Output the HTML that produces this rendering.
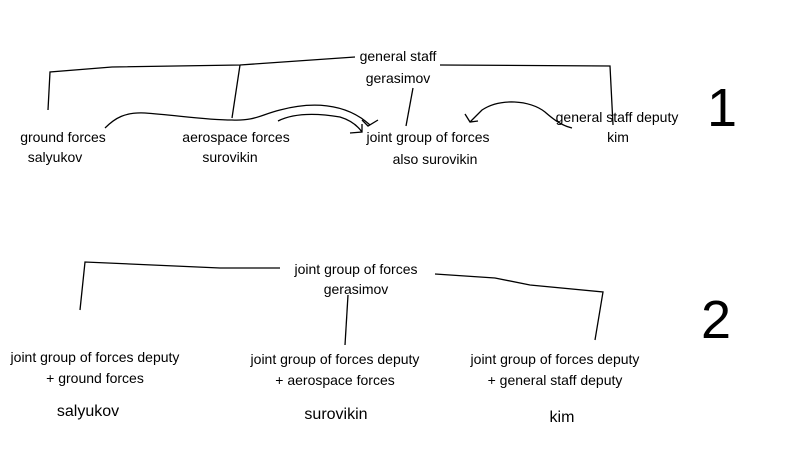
<!DOCTYPE html>
<html><head><style>html,body{margin:0;padding:0;background:#fff}svg{display:block}</style></head><body>
<svg width="800" height="459" viewBox="0 0 800 459" xmlns="http://www.w3.org/2000/svg" font-family="Liberation Sans, sans-serif">
<g fill="none" stroke="#000" stroke-width="1.3">
<polyline points="48,110 50,72 112,67 240,65 355,57"/>
<polyline points="240,65 232,118"/>
<polyline points="440,65 610,66 613,125"/>
<path d="M105,128 C115,118 125,112 145,113 C175,115 205,120 232,120 C255,121 260,115 280,110 C310,102 345,102 370,125"/>
<polyline points="362,120 368,126 378,120"/>
<path d="M278,121 C290,115 310,112 340,117 C350,120 357,125 362,132"/>
<polyline points="350,133 362,132 362,124"/>
<line x1="413" y1="88" x2="406" y2="126"/>
<path d="M572,128 C560,125 552,118 545,112 C530,100 500,98 482,110 L470,122"/>
<polyline points="465,114 470,122 478,121"/>
<polyline points="280,268 220,268 85,262 80,310"/>
<polyline points="435,274 495,278 530,285 603,292 595,340"/>
<polyline points="348,295 345,345"/>
</g>
<g font-size="14" text-anchor="middle" fill="#000">
<text x="398" y="61">general staff</text>
<text x="398" y="83">gerasimov</text>
<text x="63" y="142">ground forces</text>
<text x="55" y="162">salyukov</text>
<text x="236" y="142">aerospace forces</text>
<text x="230" y="162">surovikin</text>
<text x="428" y="142">joint group of forces</text>
<text x="435" y="164">also surovikin</text>
<text x="617" y="122">general staff deputy</text>
<text x="618" y="142">kim</text>
<text x="356" y="274">joint group of forces</text>
<text x="356" y="294">gerasimov</text>
<text x="95" y="362">joint group of forces deputy</text>
<text x="95" y="383">+ ground forces</text>
<text x="335" y="364">joint group of forces deputy</text>
<text x="335" y="385">+ aerospace forces</text>
<text x="555" y="364">joint group of forces deputy</text>
<text x="555" y="385">+ general staff deputy</text>
</g>
<g font-size="16" text-anchor="middle">
<text x="88" y="416">salyukov</text>
<text x="336" y="419">surovikin</text>
<text x="562" y="422">kim</text>
</g>
<g font-size="54" text-anchor="middle">
<text x="722" y="126">1</text>
<text x="716" y="338">2</text>
</g>
</svg>
</body></html>
